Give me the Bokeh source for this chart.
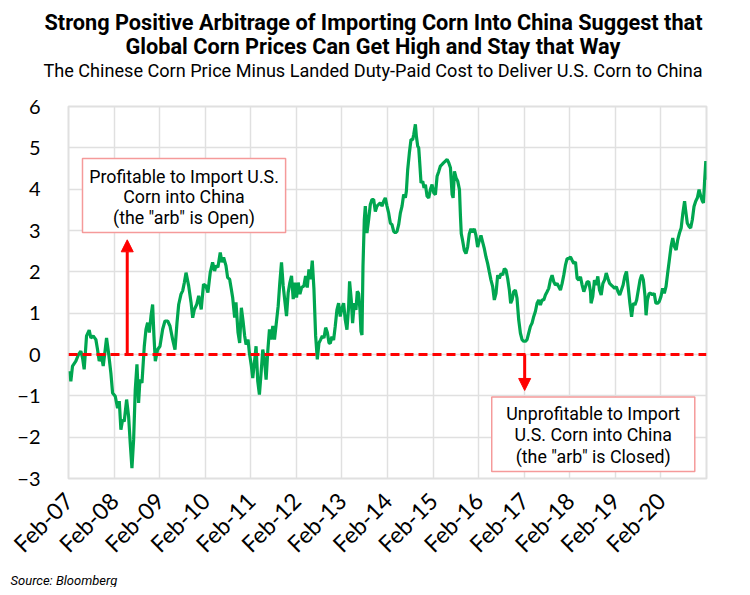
import math
from bokeh.plotting import figure
from bokeh.models import (Range1d, FixedTicker, Span, Arrow, NormalHead,
                          BoxAnnotation, Label, ColumnDataSource, Title)
from bokeh.embed import file_html
from bokeh.resources import INLINE

# ---------------- data (x = years elapsed since Feb-2007, y = $ spread) ----------------
t_2007_2009 = [0.029, 0.051, 0.088, 0.161, 0.220, 0.271, 0.308, 0.344, 0.396, 0.454, 0.491, 0.542,
               0.601, 0.637, 0.674, 0.725, 0.762, 0.806, 0.835, 0.879, 0.930, 0.967, 1.026, 1.077,
               1.114, 1.150, 1.187, 1.223, 1.275, 1.319, 1.355, 1.392, 1.429, 1.465, 1.502, 1.538,
               1.568, 1.612, 1.663, 1.700, 1.736, 1.773, 1.810, 1.846, 1.875, 1.905, 1.956, 2.007,
               2.066, 2.117, 2.176, 2.227, 2.286, 2.337, 2.381, 2.418, 2.469, 2.505, 2.542, 2.579,
               2.637, 2.689, 2.725, 2.762, 2.813, 2.857, 2.901]
v_2007_2009 = [-0.40, -0.65, -0.28, -0.16, 0.00, 0.08, -0.08, -0.36, 0.45, 0.59, 0.40, 0.45,
               0.36, 0.12, -0.16, -0.04, -0.28, 0.12, 0.40, 0.04, -0.45, -0.93, -1.01, -1.30,
               -1.13, -1.82, -1.58, -1.62, -1.09, -1.50, -2.15, -2.75, -2.06, -0.85, -0.24, -1.17,
               -0.61, -0.69, 0.20, 0.61, 0.77, 0.53, 0.93, 1.21, 0.45, -0.16, 0.12, 0.20,
               0.61, 0.81, 0.81, 0.69, 0.36, 0.12, 0.77, 1.21, 1.46, 1.54, 1.74, 1.98,
               1.66, 1.26, 0.89, 1.09, 1.21, 1.42, 1.17]

t_2010_2012 = [2.912, 2.963, 3.015, 3.059, 3.110, 3.162, 3.206, 3.235, 3.279, 3.330, 3.367, 3.404,
               3.455, 3.492, 3.536, 3.573, 3.602, 3.646, 3.675, 3.720, 3.756, 3.793, 3.830, 3.866,
               3.896, 3.940, 3.969, 4.013, 4.043, 4.087, 4.116, 4.153, 4.189, 4.226, 4.263, 4.300,
               4.336, 4.373, 4.410, 4.446, 4.483, 4.520, 4.557, 4.601, 4.637, 4.674, 4.711, 4.747,
               4.784, 4.821, 4.858, 4.894, 4.931, 4.968, 5.004, 5.041, 5.078, 5.115, 5.166, 5.203,
               5.239, 5.276, 5.313, 5.349, 5.386, 5.423, 5.460, 5.496, 5.533, 5.570, 5.606, 5.643,
               5.680, 5.717]
v_2010_2012 = [1.09, 1.70, 1.66, 1.50, 1.98, 2.23, 2.02, 2.15, 2.11, 2.47, 2.23, 2.35,
               2.15, 1.86, 1.82, 1.58, 1.38, 0.89, 1.26, 0.53, 0.28, 1.13, 0.81, 0.45,
               0.24, 0.36, 0.04, -0.28, -0.57, -0.12, 0.20, -0.65, -0.97, -0.45, 0.12, -0.12,
               -0.61, 0.08, 0.61, 0.36, 0.69, 0.36, 0.73, 1.17, 1.74, 2.23, 1.66, 1.30,
               0.93, 1.50, 1.74, 1.90, 1.34, 1.74, 1.38, 1.74, 1.46, 1.62, 1.66, 1.90,
               1.62, 2.06, 1.82, 2.27, 1.58, 0.45, -0.12, 0.28, 0.36, 0.45, 0.40, 0.65,
               0.53, 0.28]

t_2013_2015 = [5.744, 5.780, 5.817, 5.853, 5.890, 5.927, 5.963, 6.000, 6.037, 6.073, 6.110, 6.147,
               6.168, 6.205, 6.234, 6.271, 6.308, 6.337, 6.366, 6.396, 6.418, 6.440, 6.462, 6.491,
               6.513, 6.549, 6.586, 6.623, 6.659, 6.696, 6.733, 6.769, 6.806, 6.842, 6.879, 6.916,
               6.952, 6.989, 7.026, 7.062, 7.099, 7.136, 7.172, 7.209, 7.245, 7.282, 7.319, 7.355,
               7.392, 7.414, 7.443, 7.480, 7.516, 7.553, 7.575, 7.612, 7.634, 7.663, 7.685, 7.707,
               7.736, 7.773, 7.802, 7.832, 7.868, 7.905, 7.941, 7.978, 8.015, 8.051, 8.088, 8.125,
               8.161, 8.198, 8.234, 8.271, 8.308, 8.344, 8.381, 8.418, 8.440, 8.469, 8.505, 8.542,
               8.579, 8.601]
v_2013_2015 = [0.27, 0.43, 0.35, 0.68, 1.08, 1.24, 0.92, 1.12, 1.24, 0.84, 0.60, 1.16,
               1.77, 1.32, 0.76, 1.24, 1.08, 1.53, 1.48, 1.08, 0.56, 0.47, 2.13, 3.26,
               3.59, 2.94, 3.26, 3.63, 3.75, 3.75, 3.46, 3.59, 3.63, 3.67, 3.59, 3.71,
               3.79, 3.59, 3.42, 3.18, 3.14, 2.98, 2.94, 2.98, 3.14, 3.42, 3.59, 3.87,
               3.79, 3.95, 4.47, 4.88, 5.20, 5.20, 5.32, 5.57, 5.28, 5.04, 5.00, 4.64,
               4.15, 4.19, 4.03, 4.11, 3.83, 3.79, 3.99, 4.11, 3.91, 3.87, 4.31, 4.43,
               4.56, 4.60, 4.64, 4.68, 4.72, 4.64, 4.52, 3.87, 3.79, 4.43, 4.27, 4.19,
               3.99, 3.34]

t_2016_2018 = [8.619, 8.648, 8.685, 8.722, 8.758, 8.795, 8.832, 8.868, 8.905, 8.941, 8.978, 9.015,
               9.051, 9.088, 9.125, 9.161, 9.198, 9.234, 9.271, 9.308, 9.344, 9.381, 9.418, 9.454,
               9.491, 9.527, 9.564, 9.601, 9.637, 9.674, 9.703, 9.733, 9.769, 9.806, 9.842, 9.879,
               9.916, 9.952, 9.989, 10.026, 10.062, 10.099, 10.136, 10.172, 10.209, 10.245, 10.282,
               10.319, 10.355, 10.392, 10.429, 10.465, 10.502, 10.538, 10.575, 10.612, 10.648,
               10.685, 10.722, 10.758, 10.795, 10.832, 10.868, 10.905, 10.941, 10.978, 11.015,
               11.051, 11.088, 11.125, 11.161, 11.198, 11.234, 11.271, 11.308, 11.344, 11.381,
               11.418, 11.454]
v_2016_2018 = [2.92, 2.76, 2.52, 2.44, 2.60, 2.92, 3.04, 2.96, 3.04, 2.88, 2.60, 2.76,
               2.88, 2.72, 2.56, 2.36, 2.20, 2.00, 1.80, 1.64, 1.32, 1.48, 1.92, 1.84,
               1.96, 1.92, 2.08, 2.04, 1.84, 1.56, 1.24, 1.32, 1.52, 1.56, 1.36, 0.84,
               0.52, 0.36, 0.32, 0.32, 0.36, 0.52, 0.68, 0.76, 0.92, 1.04, 1.24,
               1.32, 1.20, 1.32, 1.32, 1.44, 1.52, 1.60, 1.80, 1.92, 1.76,
               1.68, 1.72, 1.64, 1.56, 1.72, 1.92, 2.16, 2.32, 2.32, 2.36,
               2.28, 2.20, 2.24, 1.84, 1.80, 1.88, 1.68, 1.52, 1.64, 1.76,
               1.76, 1.52]

t_2019_2021 = [11.467, 11.504, 11.541, 11.578, 11.615, 11.652, 11.689, 11.726, 11.763, 11.800,
               11.837, 11.874, 11.911, 11.948, 11.985, 12.022, 12.059, 12.096, 12.133, 12.170,
               12.207, 12.244, 12.281, 12.319, 12.356, 12.393, 12.430, 12.467, 12.504, 12.541,
               12.578, 12.615, 12.652, 12.674, 12.704, 12.741, 12.778, 12.815, 12.852, 12.889,
               12.926, 12.963, 13.000, 13.037, 13.074, 13.111, 13.148, 13.185, 13.222, 13.259,
               13.296, 13.333, 13.370, 13.407, 13.444, 13.481, 13.519, 13.541, 13.578, 13.615,
               13.652, 13.689, 13.726, 13.763, 13.800, 13.837, 13.874, 13.911, 13.933, 13.956,
               13.985, 13.995, 14.000]
v_2019_2021 = [1.24, 1.40, 1.80, 1.68, 1.89, 1.56, 1.44, 1.72, 1.80, 1.97,
               1.84, 1.72, 1.68, 1.64, 1.60, 1.64, 1.52, 1.44, 1.56, 1.68,
               1.89, 2.01, 1.64, 1.24, 0.91, 1.24, 1.20, 1.32, 1.56, 1.80,
               1.93, 1.80, 1.40, 0.95, 1.32, 1.48, 1.48, 1.44, 1.48, 1.24,
               1.24, 1.28, 1.40, 1.60, 1.48, 1.64, 1.97, 2.29, 2.61, 2.82,
               2.61, 2.53, 2.78, 2.94, 3.06, 3.42, 3.71, 3.50, 3.18, 3.10,
               3.06, 3.26, 3.58, 3.71, 3.79, 3.99, 3.83, 3.71, 3.67, 4.15,
               4.68, 4.31, 4.23]

tick_positions = list(range(14))
tick_labels = ["Feb-07", "Feb-08", "Feb-09", "Feb-10", "Feb-11", "Feb-12", "Feb-13",
               "Feb-14", "Feb-15", "Feb-16", "Feb-17", "Feb-18", "Feb-19", "Feb-20"]
y_ticks = [-3, -2, -1, 0, 1, 2, 3, 4, 5, 6]

segments_t = [t_2007_2009, t_2010_2012, t_2013_2015, t_2016_2018, t_2019_2021]
segments_v = [v_2007_2009, v_2010_2012, v_2013_2015, v_2016_2018, v_2019_2021]
xs, ys = [], []
for tt, vv in zip(segments_t, segments_v):
    assert len(tt) == len(vv), (len(tt), len(vv))
    xs += tt
    ys += vv

# ---------------- figure ----------------
p = figure(frame_width=638, frame_height=372, output_backend="svg", toolbar_location=None,
           x_range=Range1d(0, 14.0), y_range=Range1d(-3, 6),
           min_border_left=68, min_border_right=36, min_border_top=106, min_border_bottom=0)
p.background_fill_color = "white"
p.border_fill_color = "white"
p.outline_line_color = "#e0e0e0"
p.outline_line_width = 2

p.xaxis.ticker = FixedTicker(ticks=tick_positions)
p.xaxis.major_label_overrides = {i: lab for i, lab in zip(tick_positions, tick_labels)}
p.xaxis.major_label_orientation = math.pi / 4
p.yaxis.ticker = FixedTicker(ticks=y_ticks)
for ax in (p.xaxis, p.yaxis):
    ax.axis_line_color = None
    ax.major_tick_line_color = None
    ax.minor_tick_line_color = None
    ax.major_label_text_font = "Lato"
    ax.major_label_text_color = "black"
p.xaxis.major_label_text_font_size = "23px"
p.yaxis.major_label_text_font_size = "20px"
p.xaxis.major_label_standoff = 12
p.yaxis.major_label_standoff = 22

p.xgrid.ticker = FixedTicker(ticks=tick_positions)
p.ygrid.ticker = FixedTicker(ticks=y_ticks)
p.grid.grid_line_color = "#e0e0e0"
p.grid.grid_line_width = 1.5

src = ColumnDataSource(dict(x=xs, y=ys))
p.line("x", "y", source=src, line_color="#00a650", line_width=3.2)

p.add_layout(Span(location=0, dimension="width", line_color="#ff0000",
                  line_width=3, line_dash="9 5"))

# arrows
p.add_layout(Arrow(end=NormalHead(size=12, fill_color="#ff0000", line_color="#ff0000"),
                   x_start=1.289, y_start=0, x_end=1.289, y_end=2.775,
                   line_color="#ff0000", line_width=3))
p.add_layout(Arrow(end=NormalHead(size=12, fill_color="#ff0000", line_color="#ff0000"),
                   x_start=10.01, y_start=0, x_end=10.01, y_end=-0.87,
                   line_color="#ff0000", line_width=3))

# annotation boxes
box_style = dict(fill_color="white", fill_alpha=1.0, line_color="#f59a9a", line_width=1.5,
                 line_alpha=1.0)
p.add_layout(BoxAnnotation(left=0.307, right=4.764, top=4.74, bottom=2.95, **box_style))
p.add_layout(BoxAnnotation(left=9.287, right=13.743, top=-1.03, bottom=-2.83, **box_style))

def add_text(x, y, text):
    p.add_layout(Label(x=x, y=y, text=text, text_align="center", text_baseline="middle",
                       text_font="Roboto", text_font_size="17.8px", text_color="black"))

for yy, line in zip([4.31, 3.82, 3.31],
                    ["Profitable to Import U.S.", "Corn into China", '(the "arb" is Open)']):
    add_text(2.535, yy, line)
for yy, line in zip([-1.43, -1.94, -2.47],
                    ["Unprofitable to Import", "U.S. Corn into China", '(the "arb" is Closed)']):
    add_text(11.515, yy, line)

# titles (first added sits nearest the plot); left-aligned with offsets to centre on page
p.add_layout(Title(text=" ", text_font_size="1px", standoff=22), "above")  # spacing above plot
p.add_layout(Title(text="The Chinese Corn Price Minus Landed Duty-Paid Cost to Deliver U.S. Corn to China",
                   align="left", offset=-25, standoff=2, text_font="Roboto", text_font_size="18.1px",
                   text_font_style="normal", text_color="black"), "above")
p.add_layout(Title(text="Global Corn Prices Can Get High and Stay that Way",
                   align="left", offset=57, standoff=-4, text_font="Roboto", text_font_size="21.7px",
                   text_font_style="bold", text_color="black"), "above")
p.add_layout(Title(text="Strong Positive Arbitrage of Importing Corn Into China Suggest that",
                   align="left", offset=-24, standoff=-2, text_font="Roboto", text_font_size="21.7px",
                   text_font_style="bold", text_color="black"), "above")

p.add_layout(Title(text="Source: Bloomberg", align="left", offset=-58, standoff=0, text_font="Roboto",
                   text_font_size="13px", text_font_style="italic", text_color="black"), "below")

open("out.html", "w").write(file_html(p, INLINE))
